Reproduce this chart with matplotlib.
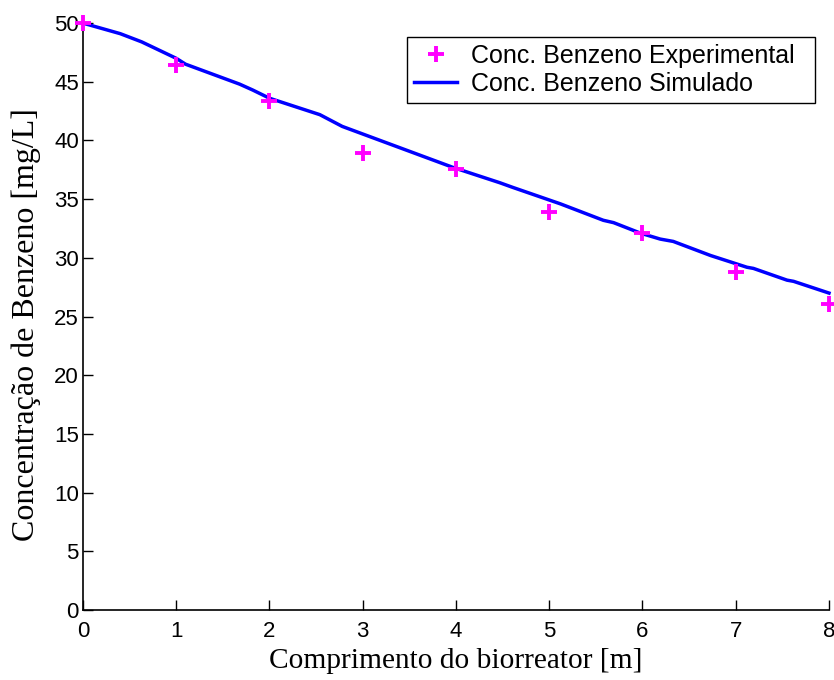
import numpy as np
import matplotlib
matplotlib.use("Agg")
from matplotlib import pyplot as plt

# experimental points
x_exp = [0, 1, 2, 3, 4, 5, 6, 7, 8]
c_exp = [50.0, 46.4, 43.4, 38.9, 37.6, 33.9, 32.1, 28.8, 26.1]

# simulated curve
x_sim = [0, 0.4, 0.63, 1.0, 1.1, 1.68, 1.82, 2.0, 2.54, 2.78, 3.97, 4.47, 4.61,
         5.12, 5.58, 5.69, 5.98, 6.19, 6.33, 6.73, 7.12, 7.19, 7.55, 7.62, 8.0]
c_sim = [50.0, 49.1, 48.4, 47.0, 46.5, 44.8, 44.3, 43.6, 42.2, 41.2, 37.7, 36.4, 36.0,
         34.6, 33.2, 33.0, 32.1, 31.6, 31.4, 30.2, 29.2, 29.1, 28.1, 28.0, 27.0]

fig = plt.figure(figsize=(8.34, 6.8), dpi=100)
ax = fig.add_axes([0.0995, 0.103, 0.8945, 0.863])

ax.plot(x_exp, c_exp, '+', color='#ff00ff', markersize=12, mew=2.8,
        label='Conc. Benzeno Experimental', clip_on=False, zorder=3)
ax.plot(x_sim, c_sim, '-', color='#0000ff', lw=2.5,
        label='Conc. Benzeno Simulado', clip_on=False, zorder=2)

ax.set_xlim(0, 8)
ax.set_ylim(0, 50)
ax.set_xticks(range(0, 9))
ax.set_yticks(range(0, 51, 5))
for s in ['top', 'right']:
    ax.spines[s].set_visible(False)
for s in ['left', 'bottom']:
    ax.spines[s].set_linewidth(1.2)
ax.tick_params(direction='in', length=7, width=1, labelsize=16)
ax.tick_params(axis='x', pad=8)
ax.tick_params(axis='y', pad=3)
for lab in ax.get_xticklabels() + ax.get_yticklabels():
    lab.set_family('Liberation Sans')

ax.set_xlabel('Comprimento do biorreator [m]', family='Liberation Serif', fontsize=21.2, labelpad=4)
ax.set_ylabel('Concentração de Benzeno [mg/L]', family='Liberation Serif', fontsize=23)
ax.yaxis.set_label_coords(-0.056, 0.486)

# legend box stretched to the width seen in the reference
leg = ax.legend(loc='upper left', bbox_to_anchor=(0.434, 0.5, 0.547, 0.477), mode='expand',
                prop={'family': 'Liberation Sans', 'size': 18},
                fancybox=False, edgecolor='black', framealpha=1, borderpad=0.3,
                labelspacing=0.15, handlelength=1.72, handletextpad=0.55, borderaxespad=0)
leg.get_frame().set_linewidth(1.0)

fig.savefig('out.png', dpi=100)
